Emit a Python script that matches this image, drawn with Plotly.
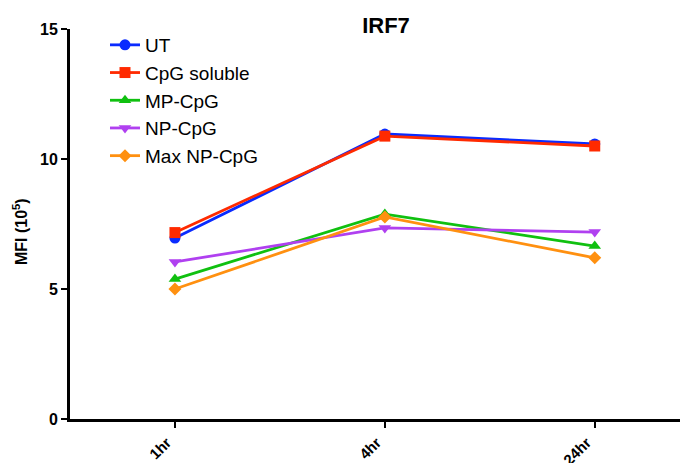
import plotly.graph_objects as go

categories = ["1hr", "4hr", "24hr"]
ut = [6.96, 10.96, 10.58]
cpg_soluble = [7.17, 10.88, 10.5]
mp_cpg = [5.38, 7.88, 6.65]
np_cpg = [6.04, 7.35, 7.19]
max_np_cpg = [5.0, 7.77, 6.2]

series = [
    ("UT", ut, "#0a2bff", "circle"),
    ("CpG soluble", cpg_soluble, "#ff2a00", "square"),
    ("MP-CpG", mp_cpg, "#10c010", "triangle-up"),
    ("NP-CpG", np_cpg, "#b040f0", "triangle-down"),
    ("Max NP-CpG", max_np_cpg, "#ff9010", "diamond"),
]

fig = go.Figure()
for name, vals, color, sym in series:
    fig.add_trace(go.Scatter(
        x=[0, 1, 2], y=vals, name=name, mode="lines+markers",
        line=dict(color=color, width=2.8),
        marker=dict(symbol=sym, size=11 if sym != "diamond" else 10, color=color),
    ))

FONT = "Liberation Sans, Arial, sans-serif"
# page is offset by the 8px body margin; plot area in page px: x 70..685, y 29..419
L, T, W, H = 62, 21, 615, 390
fig.update_layout(
    width=688, height=463,
    paper_bgcolor="white", plot_bgcolor="white",
    margin=dict(l=L, r=688 - L - W, t=T, b=463 - T - H, autoexpand=False),
    font=dict(family=FONT, color="black"),
    title=dict(text="<b>IRF7</b>", x=378 / 688, xanchor="center", y=1 - 17 / 463, yanchor="middle",
               font=dict(size=22), automargin=False),
    showlegend=True,
    legend=dict(x=(97 - L) / W, y=1 + 3 / H, xanchor="left", yanchor="top",
                font=dict(size=19), bgcolor="rgba(0,0,0,0)", tracegroupgap=0, itemwidth=30),
    xaxis=dict(
        range=[-0.5, 2.43], tickmode="array", tickvals=[0, 1, 2], ticktext=categories,
        tickangle=-45, showline=True, linecolor="black", linewidth=3,
        ticks="outside", ticklen=6, tickwidth=2, tickcolor="black",
        showgrid=False, zeroline=False, automargin=False, ticklabelshift=-8,
        tickfont=dict(size=15, family=FONT, weight="bold"),
    ),
    yaxis=dict(
        range=[0, 15], tickvals=[0, 5, 10, 15], showline=True, linecolor="black", linewidth=3,
        ticks="outside", ticklen=6, tickwidth=2, tickcolor="black",
        showgrid=False, zeroline=False, automargin=False,
        tickfont=dict(size=16, family=FONT, weight="bold"),
    ),
    annotations=[dict(
        text="<b>MFI (10<sup>5</sup>)</b>", textangle=-90, xref="paper", yref="paper",
        x=(12 - L) / W, y=1 - (224 - T) / H, xanchor="center", yanchor="middle",
        showarrow=False, font=dict(size=16, family=FONT),
    )],
)

fig.write_html("out.html")
